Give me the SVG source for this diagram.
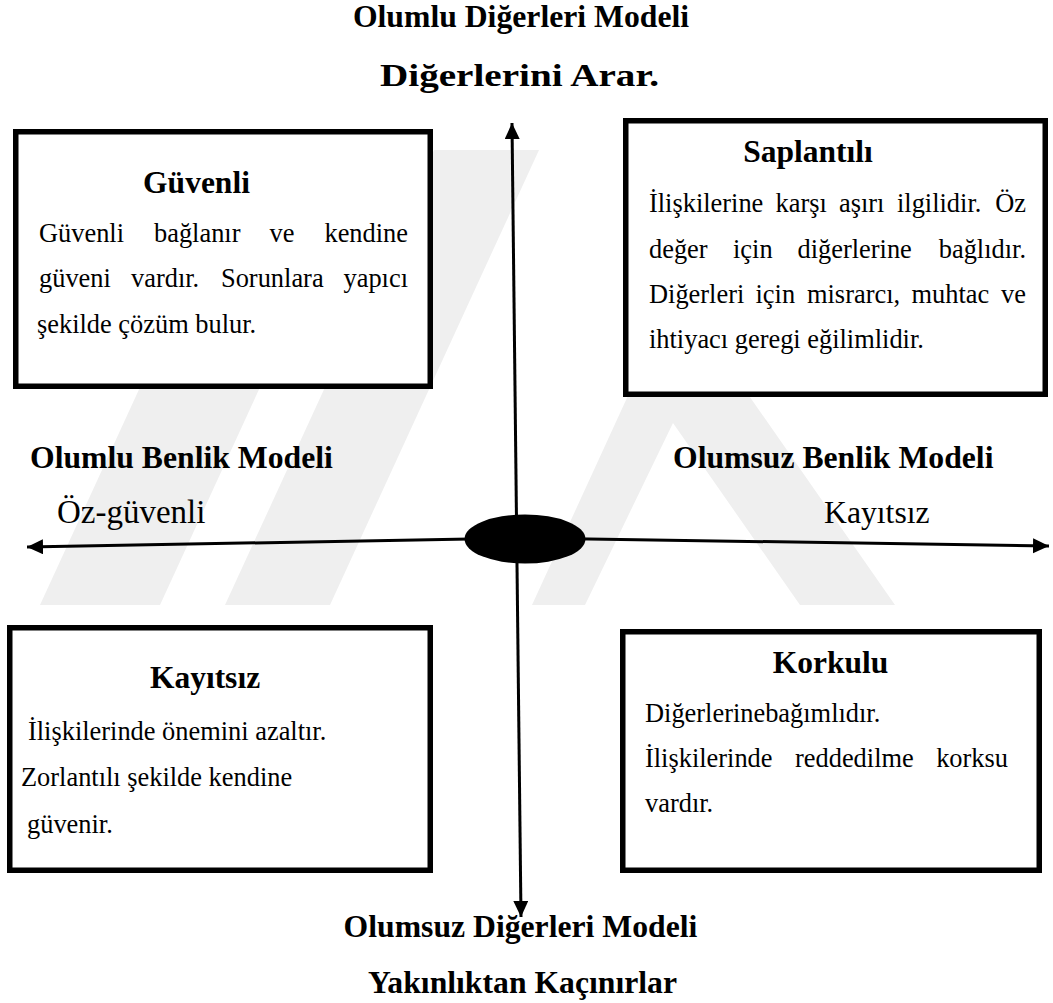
<svg xmlns="http://www.w3.org/2000/svg" width="1053" height="1003" viewBox="0 0 1053 1003">
<defs>
<marker id="arrow" markerUnits="userSpaceOnUse" markerWidth="17" markerHeight="16" refX="16" refY="7.5" orient="auto">
<path d="M0,0 L16,7.5 L0,15 z" fill="#000"/>
</marker>
<style>
.t{font-size:31.7px;font-weight:bold}
.h{font-size:31.5px;font-weight:bold}
.b{font-size:26.4px}
.box{fill:#fff;stroke:#000;stroke-width:5.5}
.ax{stroke:#000;stroke-width:3;fill:none}
.wm{fill:#efefef}
</style>
</defs>
<rect width="1053" height="1003" fill="#fff"/>
<g id="watermark" class="wm">
<polygon points="40,605 160,605 369,150 249,150"/>
<polygon points="225,605 330,605 539,150 434,150"/>
<path fill-rule="evenodd" d="M532,605 L676,291 L895,605 Z M585,605 L673,423 L800,605 Z"/>
</g>
<g id="connectors">
<line class="ax" x1="516.7" y1="538" x2="512" y2="123" marker-end="url(#arrow)"/>
<line class="ax" x1="516.7" y1="538" x2="521" y2="917" marker-end="url(#arrow)"/>
<line class="ax" x1="525" y1="538" x2="27" y2="547" marker-end="url(#arrow)"/>
<line class="ax" x1="525" y1="538" x2="1049" y2="546" marker-end="url(#arrow)"/>
</g>
<g id="center">
<ellipse cx="525" cy="539" rx="60.5" ry="24.5" fill="#000"/>
</g>
<g font-family="'Liberation Serif', 'Times New Roman', serif" fill="#000">
<g id="title-top">
<text class="t" x="521" y="27" text-anchor="middle">Olumlu Diğerleri Modeli</text>
<text class="t" x="380" y="86" textLength="279" lengthAdjust="spacingAndGlyphs">Diğerlerini Arar.</text>
</g>
<g id="title-bottom">
<text class="t" x="520.5" y="937" text-anchor="middle">Olumsuz Diğerleri Modeli</text>
<text class="t" x="522.5" y="993" text-anchor="middle">Yakınlıktan Kaçınırlar</text>
</g>
<g id="label-left">
<text class="t" x="30" y="468">Olumlu Benlik Modeli</text>
<text x="57" y="523" font-size="33">Öz-güvenli</text>
</g>
<g id="label-right">
<text class="t" x="673" y="468">Olumsuz Benlik Modeli</text>
<text x="824" y="523" font-size="31.7">Kayıtsız</text>
</g>
<g id="node-guvenli">
<rect class="box" x="15.75" y="131.75" width="414.5" height="254.5"/>
<text class="h" x="196.5" y="193" text-anchor="middle">Güvenli</text>
<text class="b" y="242"><tspan x="39">Güvenli</tspan><tspan x="154">bağlanır</tspan><tspan x="269.5">ve</tspan><tspan x="408" text-anchor="end">kendine</tspan></text>
<text class="b" y="287"><tspan x="39">güveni</tspan><tspan x="131">vardır.</tspan><tspan x="221">Sorunlara</tspan><tspan x="408" text-anchor="end">yapıcı</tspan></text>
<text class="b" x="37" y="333">şekilde çözüm bulur.</text>
</g>
<g id="node-saplantili">
<rect class="box" x="625.75" y="120.75" width="419.5" height="273.5"/>
<text class="h" x="808" y="162" text-anchor="middle">Saplantılı</text>
<text class="b" y="212"><tspan x="649">İlişkilerine</tspan><tspan x="775.5">karşı</tspan><tspan x="839">aşırı</tspan><tspan x="897">ilgilidir.</tspan><tspan x="1026" text-anchor="end">Öz</tspan></text>
<text class="b" y="258"><tspan x="649">değer</tspan><tspan x="733">için</tspan><tspan x="797.5">diğerlerine</tspan><tspan x="1026" text-anchor="end">bağlıdır.</tspan></text>
<text class="b" y="303"><tspan x="649">Diğerleri</tspan><tspan x="755.5">için</tspan><tspan x="807">misrarcı,</tspan><tspan x="911.5">muhtac</tspan><tspan x="1026" text-anchor="end">ve</tspan></text>
<text class="b" x="649" y="348">ihtiyacı geregi eğilimlidir.</text>
</g>
<g id="node-kayitsiz">
<rect class="box" x="9.75" y="627.75" width="420.5" height="242.5"/>
<text class="h" x="205" y="688" text-anchor="middle">Kayıtsız</text>
<text class="b" x="28" y="740">İlişkilerinde önemini azaltır.</text>
<text class="b" x="21" y="786">Zorlantılı şekilde kendine</text>
<text class="b" x="27" y="833">güvenir.</text>
</g>
<g id="node-korkulu">
<rect class="box" x="622.75" y="631.75" width="416.5" height="238.5"/>
<text class="h" x="830.5" y="673" text-anchor="middle">Korkulu</text>
<text class="b" x="645" y="722">Diğerlerinebağımlıdır.</text>
<text class="b" y="767"><tspan x="645">İlişkilerinde</tspan><tspan x="795">reddedilme</tspan><tspan x="1008" text-anchor="end">korksu</tspan></text>
<text class="b" x="645" y="812">vardır.</text>
</g>
</g>
</svg>
